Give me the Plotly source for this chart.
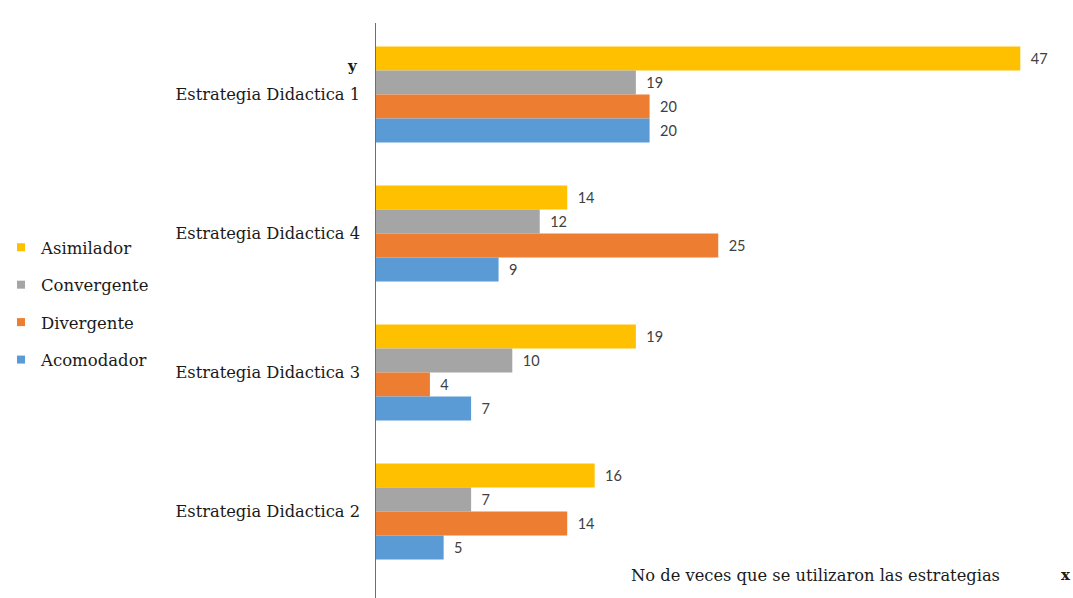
import plotly.graph_objects as go

categories = ["Estrategia Didactica 1", "Estrategia Didactica 4", "Estrategia Didactica 3", "Estrategia Didactica 2"]
series_names = ["Asimilador", "Convergente", "Divergente", "Acomodador"]
asimilador = [47, 14, 19, 16]
convergente = [19, 12, 10, 7]
divergente = [20, 25, 4, 14]
acomodador = [20, 9, 7, 5]
colors = ["#FFC000", "#A5A5A5", "#ED7D31", "#5B9BD5"]

values = [asimilador, convergente, divergente, acomodador]

W, H = 1073, 598
L, T = 375, 25
plot_w = W - L
plot_h = H - T
px_per_unit = 13.73
xmax = plot_w / px_per_unit
group_px = 139.0
ymax = -0.5 + plot_h / group_px

serif = "DejaVu Serif"
txt_col = "#1a1a1a"

fig = go.Figure()
for name, vals, col in zip(series_names, values, colors):
    fig.add_trace(go.Bar(
        y=categories, x=vals, orientation="h", name=name,
        marker=dict(color=col, line=dict(width=0)),
        texttemplate="\u00a0\u00a0%{x}", textposition="outside",
        textfont=dict(family="Lato, Liberation Sans", size=14.5, color="#404040"),
        constraintext="none", cliponaxis=False, showlegend=False,
    ))
for name, col in zip(series_names, colors):
    fig.add_trace(go.Scatter(
        x=[None], y=[None], mode="markers", name=name,
        marker=dict(symbol="square", size=8, color=col),
        legendgroup=name, showlegend=True,
    ))

fig.update_layout(
    width=W, height=H,
    margin=dict(l=L, r=0, t=T, b=0),
    paper_bgcolor="white", plot_bgcolor="white",
    barmode="group", bargap=0.31, bargroupgap=0,
    showlegend=True,
    legend=dict(
        x=(1 - L) / plot_w, y=1 - (230 - T) / plot_h,
        xanchor="left", yanchor="top",
        font=dict(family=serif, size=16.5, color=txt_col),
        tracegroupgap=13, itemwidth=30, bgcolor="rgba(0,0,0,0)",
    ),
    xaxis=dict(range=[0, xmax], showgrid=False, zeroline=False,
               showticklabels=False, ticks="", showline=False),
    yaxis=dict(range=[ymax, -0.5], type="category",
               categoryorder="array", categoryarray=categories,
               showgrid=False, zeroline=False, ticks="",
               showline=False, ticklabelstandoff=14,
               tickfont=dict(family=serif, size=16.3, color=txt_col)),
    annotations=[
        dict(text="<b>y</b>", xref="paper", yref="paper",
             x=(352 - L) / plot_w, y=1 - (66 - T) / plot_h, showarrow=False,
             xanchor="center", yanchor="middle",
             font=dict(family=serif, size=15, color=txt_col)),
        dict(text="No de veces que se utilizaron las estrategias", xref="paper", yref="paper",
             x=(629 - L) / plot_w, y=1 - (575 - T) / plot_h, showarrow=False,
             xanchor="left", yanchor="middle",
             font=dict(family=serif, size=16.3, color=txt_col)),
        dict(text="<b>x</b>", xref="paper", yref="paper",
             x=(1066 - L) / plot_w, y=1 - (575 - T) / plot_h, showarrow=False,
             xanchor="center", yanchor="middle",
             font=dict(family=serif, size=15, color=txt_col)),
    ],
    shapes=[
        dict(type="line", xref="x", yref="paper", x0=0, x1=0, y0=0,
             y1=1 + 2 / plot_h, line=dict(color="#6e6e6e", width=2)),
    ],
)

fig.write_html("out.html")
